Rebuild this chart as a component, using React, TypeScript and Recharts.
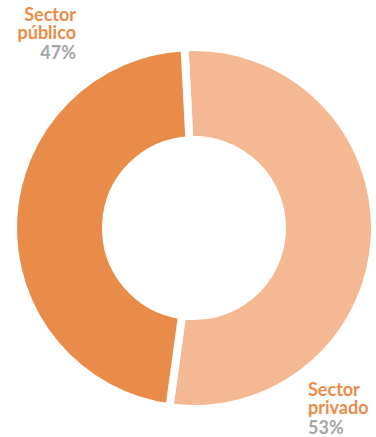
import { PieChart, Pie, Cell } from 'recharts'

// Share of the sector split (percent)
const sectors = ['Sector privado', 'Sector público']
const shares = [53, 47]
const sliceColors = ['#F4B992', '#E98C4A']

const data = sectors.map((name, i) => ({ name, value: shares[i] }))

const labelStyle = {
    position: 'absolute' as const,
    fontFamily: 'Lato, "Open Sans", sans-serif',
    fontWeight: 700,
    fontSize: '18px',
    lineHeight: '18px',
}

export default function App() {
    return (
        <div style={{ position: 'absolute', left: 0, top: 0, width: 376, height: 437, background: '#fff' }}>
            <PieChart width={376} height={437} margin={{ top: 0, right: 0, bottom: 0, left: 0 }}>
                <Pie
                    data={data}
                    dataKey="value"
                    cx={194}
                    cy={228}
                    innerRadius={88}
                    outerRadius={181}
                    startAngle={93}
                    endAngle={-267}
                    stroke="#ffffff"
                    strokeWidth={8}
                    isAnimationActive={false}
                >
                    {data.map((d, i) => (
                        <Cell key={d.name} fill={sliceColors[i]} />
                    ))}
                </Pie>
            </PieChart>

            {/* labels */}
            <div style={{ ...labelStyle, right: 376 - 76, top: 5, textAlign: 'right' }}>
                <div style={{ color: '#EC8B47' }}>Sector</div>
                <div style={{ color: '#EC8B47' }}>público</div>
                <div style={{ color: '#A6A6A6', marginTop: 2 }}>{shares[1]}%</div>
            </div>
            <div style={{ ...labelStyle, left: 308, top: 380, textAlign: 'left' }}>
                <div style={{ color: '#EC8B47' }}>Sector</div>
                <div style={{ color: '#EC8B47' }}>privado</div>
                <div style={{ color: '#A6A6A6', marginTop: 2 }}>{shares[0]}%</div>
            </div>
        </div>
    )
}
